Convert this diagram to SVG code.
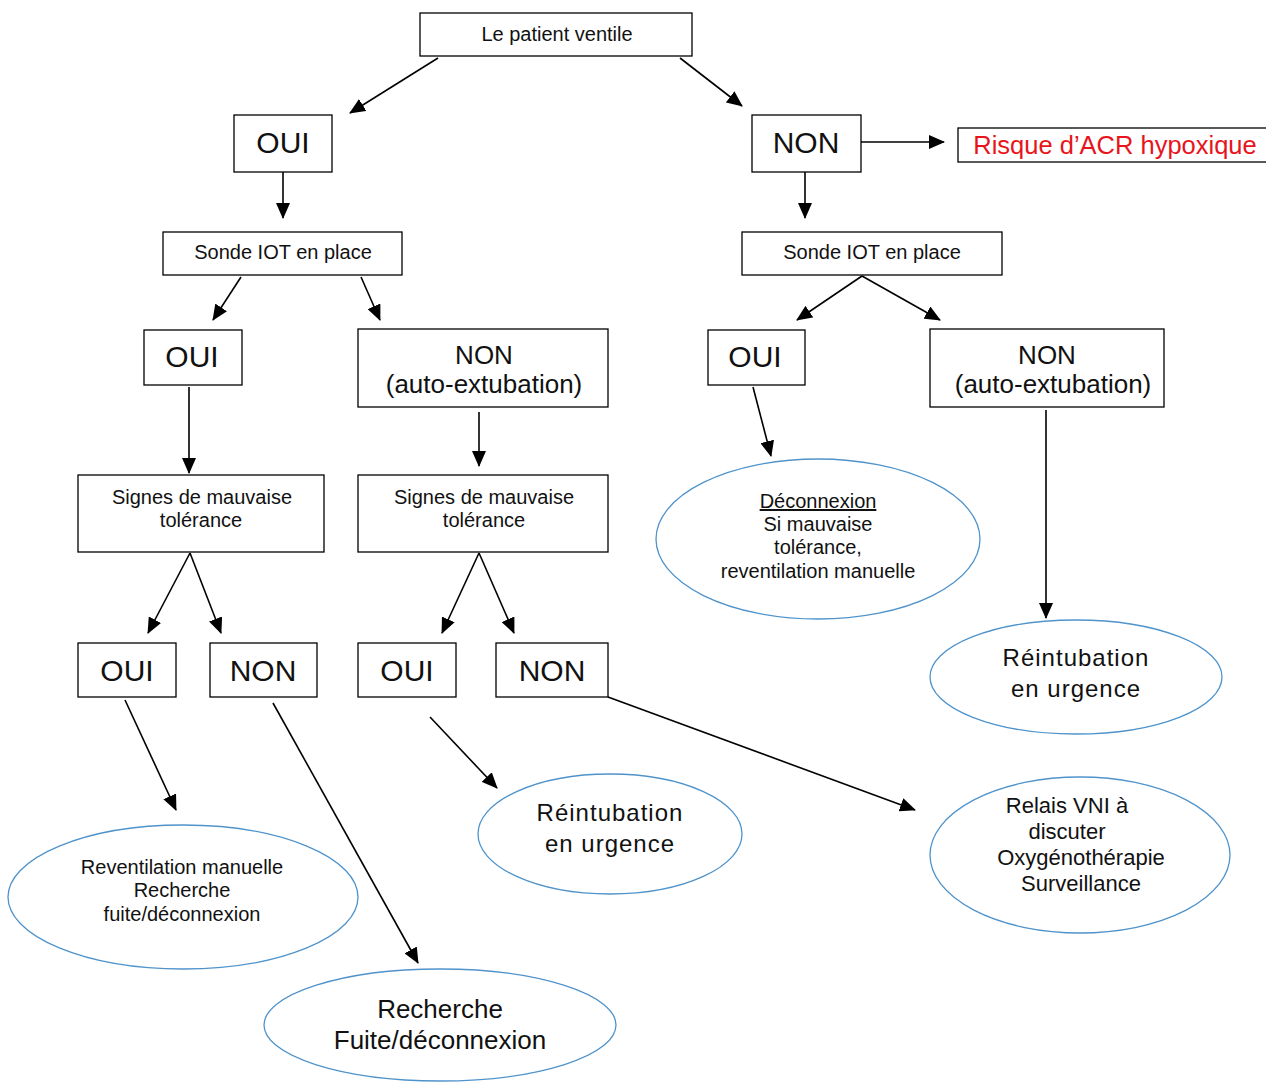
<svg xmlns="http://www.w3.org/2000/svg" width="1266" height="1082" viewBox="0 0 1266 1082">
<style>
.box{fill:#fff;stroke:#000;stroke-width:1.3}
.ell{fill:#fff;stroke:#4F93CB;stroke-width:1.3}
text{font-family:"Liberation Sans",Arial,sans-serif;fill:#111;text-anchor:middle}
.s18{font-size:20px}
.s20{font-size:22px}
.s23{font-size:24px;letter-spacing:1px}
.s24{font-size:26px}
.big{font-size:30px}
.red{fill:#E8141C;font-size:25.5px}
.conn line{stroke:#000;stroke-width:1.6;marker-end:url(#ah)}
</style>
<defs>
<marker id="ah" markerUnits="userSpaceOnUse" markerWidth="16" markerHeight="14" refX="15" refY="7" orient="auto">
<path d="M0,0 L16,7 L0,14 Z" fill="#000"/>
</marker>
</defs>
<rect width="1266" height="1082" fill="#fff"/>

<g class="conn">
<line x1="438" y1="58" x2="350" y2="113"/>
<line x1="680" y1="58" x2="742" y2="106"/>
<line x1="861" y1="142" x2="944" y2="142"/>
<line x1="283" y1="172" x2="283" y2="218"/>
<line x1="805" y1="172" x2="805" y2="218"/>
<line x1="241" y1="277" x2="213" y2="320"/>
<line x1="361" y1="277" x2="380" y2="320"/>
<line x1="862" y1="276" x2="797" y2="320"/>
<line x1="862" y1="276" x2="940" y2="320"/>
<line x1="189" y1="387" x2="189" y2="473"/>
<line x1="479" y1="412" x2="479" y2="466"/>
<line x1="753" y1="387" x2="771" y2="456"/>
<line x1="1046" y1="410" x2="1046" y2="618"/>
<line x1="190" y1="553" x2="148" y2="633"/>
<line x1="190" y1="553" x2="221" y2="633"/>
<line x1="479" y1="553" x2="442" y2="633"/>
<line x1="479" y1="553" x2="514" y2="633"/>
<line x1="125" y1="700" x2="176" y2="810"/>
<line x1="273" y1="703" x2="418" y2="963"/>
<line x1="430" y1="717" x2="497" y2="788"/>
<line x1="608" y1="697" x2="915" y2="810"/>
</g>

<g id="n-patient"><rect class="box" x="420" y="13" width="272" height="43"/><text class="s18" x="557" y="41">Le patient  ventile</text></g>
<g id="n-oui1"><rect class="box" x="234" y="115" width="98" height="57"/><text class="big" x="283" y="153">OUI</text></g>
<g id="n-non1"><rect class="box" x="752" y="115" width="109" height="57"/><text class="big" x="806" y="153">NON</text></g>
<g id="n-risque"><rect class="box" x="958" y="128" width="310" height="34"/><text class="red" x="1115" y="154">Risque d’ACR hypoxique</text></g>
<g id="n-sonde-l"><rect class="box" x="163" y="232" width="239" height="43"/><text class="s18" x="283" y="259">Sonde IOT en place</text></g>
<g id="n-sonde-r"><rect class="box" x="742" y="232" width="260" height="43"/><text class="s18" x="872" y="259">Sonde IOT en place</text></g>
<g id="n-oui2l"><rect class="box" x="144" y="330" width="98" height="55"/><text class="big" x="192" y="367">OUI</text></g>
<g id="n-non2l"><rect class="box" x="358" y="329" width="250" height="78"/><text class="s24" x="484" y="364">NON</text><text class="s24" x="484" y="393">(auto-extubation)</text></g>
<g id="n-oui2r"><rect class="box" x="708" y="330" width="97" height="55"/><text class="big" x="755" y="367">OUI</text></g>
<g id="n-non2r"><rect class="box" x="930" y="329" width="234" height="78"/><text class="s24" x="1047" y="364">NON</text><text class="s24" x="1053" y="393">(auto-extubation)</text></g>
<g id="n-signes-l"><rect class="box" x="78" y="475" width="246" height="77"/><text class="s18" x="202" y="504">Signes  de mauvaise</text><text class="s18" x="201" y="527">tolérance</text></g>
<g id="n-signes-m"><rect class="box" x="358" y="475" width="250" height="77"/><text class="s18" x="484" y="504">Signes  de mauvaise</text><text class="s18" x="484" y="527">tolérance</text></g>
<g id="n-oui3l"><rect class="box" x="78" y="643" width="98" height="54"/><text class="big" x="127" y="681">OUI</text></g>
<g id="n-non3l"><rect class="box" x="210" y="643" width="107" height="54"/><text class="big" x="263" y="681">NON</text></g>
<g id="n-oui3m"><rect class="box" x="358" y="643" width="98" height="54"/><text class="big" x="407" y="681">OUI</text></g>
<g id="n-non3m"><rect class="box" x="496" y="643" width="112" height="54"/><text class="big" x="552" y="681">NON</text></g>

<g id="n-deconnexion"><ellipse class="ell" cx="818" cy="539" rx="162" ry="80"/>
<text class="s18" x="818" y="508" text-decoration="underline">Déconnexion</text>
<text class="s18" x="818" y="531">Si mauvaise</text>
<text class="s18" x="818" y="554">tolérance,</text>
<text class="s18" x="818" y="578">reventilation  manuelle</text></g>
<g id="n-reint-r"><ellipse class="ell" cx="1076" cy="677" rx="146" ry="57"/>
<text class="s23" x="1076" y="666">Réintubation</text><text class="s23" x="1076" y="697">en urgence</text></g>
<g id="n-reint-m"><ellipse class="ell" cx="610" cy="834" rx="132" ry="60"/>
<text class="s23" x="610" y="821">Réintubation</text><text class="s23" x="610" y="852">en urgence</text></g>
<g id="n-relais"><ellipse class="ell" cx="1080" cy="855" rx="150" ry="78"/>
<text class="s20" x="1067" y="813">Relais VNI à</text>
<text class="s20" x="1067" y="839">discuter</text>
<text class="s20" x="1081" y="865">Oxygénothérapie</text>
<text class="s20" x="1081" y="891">Surveillance</text></g>
<g id="n-reventilation"><ellipse class="ell" cx="183" cy="897" rx="175" ry="72"/>
<text class="s18" x="182" y="874">Reventilation  manuelle</text>
<text class="s18" x="182" y="897">Recherche</text>
<text class="s18" x="182" y="921">fuite/déconnexion</text></g>
<g id="n-recherche"><ellipse class="ell" cx="440" cy="1025" rx="176" ry="56"/>
<text class="s24" x="440" y="1018">Recherche</text>
<text class="s24" x="440" y="1049">Fuite/déconnexion</text></g>
</svg>
